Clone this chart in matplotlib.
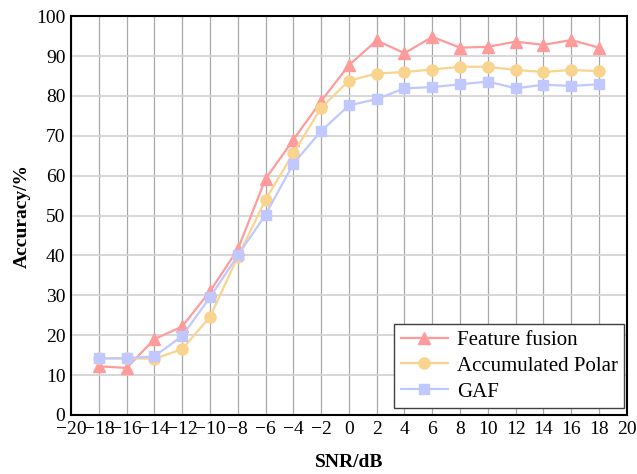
import matplotlib.pyplot as plt

plt.rcParams["font.family"] = ["Liberation Serif", "DejaVu Serif"]

snr = [-18, -16, -14, -12, -10, -8, -6, -4, -2, 0, 2, 4, 6, 8, 10, 12, 14, 16, 18]
feature_fusion = [12.2, 11.8, 19.0, 22.2, 31.0, 41.5, 59.2, 69.0, 78.7, 87.7,
                  93.9, 90.7, 94.8, 92.1, 92.3, 93.6, 92.8, 94.0, 92.1]
accumulated_polar = [14.2, 14.2, 14.1, 16.5, 24.6, 39.6, 54.0, 65.6, 77.0, 83.8,
                     85.6, 86.0, 86.6, 87.3, 87.3, 86.5, 86.0, 86.5, 86.2]
gaf = [14.2, 14.2, 14.7, 19.8, 29.5, 40.0, 50.2, 63.0, 71.2, 77.6,
       79.2, 81.9, 82.2, 82.9, 83.6, 81.9, 82.8, 82.5, 82.9]

fig = plt.figure(figsize=(6.37, 4.74), dpi=100)
ax = fig.add_axes([0.1115, 0.1245, 0.8725, 0.8415])

ax.plot(snr, feature_fusion, color="#ff9b9b", marker="^", markersize=8,
        linewidth=1.6, label="Feature fusion", zorder=3)
ax.plot(snr, accumulated_polar, color="#f8d48e", marker="o", markersize=8,
        linewidth=1.6, label="Accumulated Polar", zorder=3)
ax.plot(snr, gaf, color="#c0c8ff", marker="s", markersize=7,
        linewidth=1.6, label="GAF", zorder=3)

ax.set_xlim(-20, 20)
ax.set_ylim(0, 100)
ax.set_xticks(range(-20, 21, 2))
ax.set_yticks(range(0, 101, 10))
ax.tick_params(labelsize=14, length=0, pad=4)
# vertical grid darker than the horizontal one
ax.grid(True, axis="x", color="#a8a8a8", linewidth=0.9)
ax.grid(True, axis="y", color="#d4d4d4", linewidth=1.3)
ax.set_axisbelow(True)
for spine in ax.spines.values():
    spine.set_linewidth(1.5)

ax.set_xlabel("SNR/dB", fontsize=14, fontweight="bold", labelpad=12)
ax.set_ylabel("Accuracy/%", fontsize=14, fontweight="bold", labelpad=4)

leg = ax.legend(loc="lower right", fontsize=15, fancybox=False, framealpha=1,
                edgecolor="#404040", handlelength=2.3, borderpad=0.3,
                labelspacing=0.3, handletextpad=0.4, borderaxespad=0,
                bbox_to_anchor=(0.995, 0.018))
leg.get_frame().set_linewidth(1.0)

fig.savefig("out.png", dpi=100)
